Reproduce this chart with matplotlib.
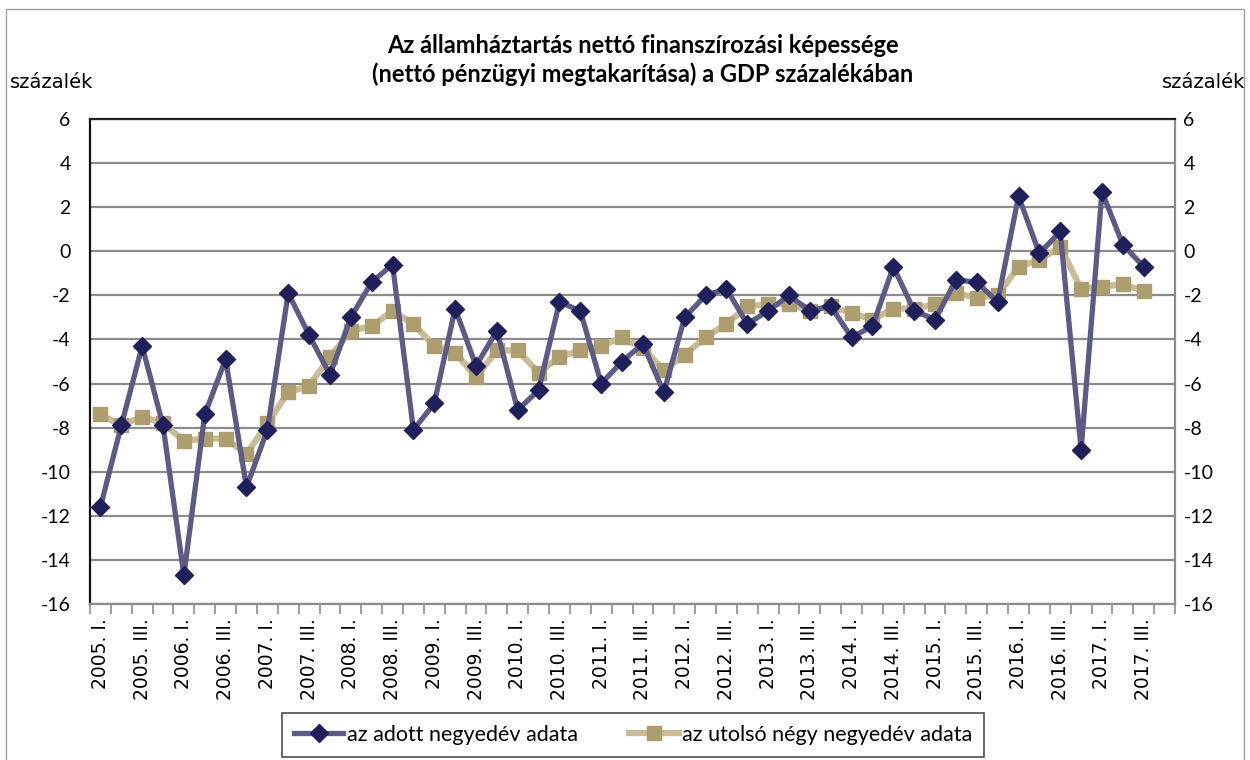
import matplotlib
matplotlib.use("Agg")
import matplotlib.pyplot as plt
from matplotlib.lines import Line2D
from matplotlib.patches import Rectangle

# ── data (2005 Q1 .. 2017 Q3; 2017 Q4 slot left empty on the axis) ─────────
years = list(range(2005, 2018))
quarters = ["I.", "II.", "III.", "IV."]
categories = [f"{y}. {q}" for y in years for q in quarters]   # 52 slots

quarterly = [-11.6, -7.9, -4.3, -7.9, -14.7, -7.4, -4.9, -10.7,
             -8.1, -1.9, -3.8, -5.6, -3.0, -1.4, -0.6, -8.1,
             -6.9, -2.6, -5.2, -3.6, -7.2, -6.3, -2.3, -2.7,
             -6.0, -5.0, -4.2, -6.4, -3.0, -2.0, -1.7, -3.3,
             -2.7, -2.0, -2.7, -2.5, -3.9, -3.4, -0.7, -2.7,
             -3.1, -1.3, -1.4, -2.3, 2.5, -0.1, 0.9, -9.0,
             2.7, 0.3, -0.7]
rolling4 = [-7.4, -7.9, -7.5, -7.8, -8.6, -8.5, -8.5, -9.2,
            -7.8, -6.4, -6.1, -4.8, -3.6, -3.4, -2.7, -3.3,
            -4.3, -4.6, -5.7, -4.5, -4.5, -5.5, -4.8, -4.5,
            -4.3, -3.9, -4.4, -5.4, -4.7, -3.9, -3.3, -2.5,
            -2.4, -2.4, -2.7, -2.5, -2.8, -3.1, -2.6, -2.6,
            -2.4, -1.9, -2.1, -2.0, -0.7, -0.4, 0.2, -1.7,
            -1.6, -1.5, -1.8]

yticks = list(range(-16, 7, 2))

TITLE = ("Az államháztartás nettó finanszírozási képessége\n"
         "(nettó pénzügyi megtakarítása) a GDP százalékában")
UNIT = "százalék"
LABELS = ["az adott negyedév adata", "az utolsó négy negyedév adata"]

# ── style ────────────────────────────────────────────────────────────────────
NAVY_LINE = "#5b5b86"
NAVY_MARK = "#1f1f5c"
TAN_LINE = "#c9bc97"
TAN_MARK = "#ad9e6f"
GRID = "#8c8c8c"
FONT = ["Lato", "DejaVu Sans"]

plt.rcParams["font.family"] = FONT
plt.rcParams["axes.unicode_minus"] = False

fig = plt.figure(figsize=(12.5, 7.6), dpi=100)
ax = fig.add_axes([90 / 1250, 1 - 604 / 760, 1085 / 1250, 485 / 760])

# outer chart frame
fig.patches.append(Rectangle((6 / 1250, -0.01), 1238 / 1250, 1 - 9 / 760 + 0.01,
                             transform=fig.transFigure, fill=False,
                             edgecolor="#a0a0a0", lw=1.0))

xs = list(range(len(quarterly)))
ax.plot(xs, rolling4, color=TAN_LINE, lw=4.5, marker="s", ms=10,
        mfc=TAN_MARK, mec=TAN_MARK, zorder=3)
ax.plot(xs, quarterly, color=NAVY_LINE, lw=3.8, marker="D", ms=9.5,
        mfc=NAVY_MARK, mec=NAVY_MARK, zorder=4)

ax.set_xlim(-0.5, len(categories) - 0.5)
ax.set_ylim(-16, 6)
ax.set_yticks(yticks)
ax.yaxis.grid(True, color=GRID, lw=1.6)
ax.set_axisbelow(True)
ax.tick_params(axis="y", length=0, labelsize=14, pad=14)

# category boundary ticks, labels on every second category centre
ax.set_xticks([i - 0.5 for i in range(len(categories) + 1)])
ax.set_xticklabels([])
ax.tick_params(axis="x", which="major", length=7, color=GRID, width=1.2)
ax.set_xticks(list(range(0, len(categories), 2)), minor=True)
ax.set_xticklabels(categories[::2], minor=True, rotation=90,
                   fontsize=13.5, family="DejaVu Sans")
ax.tick_params(axis="x", which="minor", length=0, pad=10)

for side, col, w in (("left", "#111111", 1.6), ("top", "#222222", 1.6),
                     ("right", "#8c8c8c", 1.6), ("bottom", "#8c8c8c", 1.6)):
    ax.spines[side].set_color(col)
    ax.spines[side].set_linewidth(w)

ax2 = ax.twinx()
ax2.set_ylim(-16, 6)
ax2.set_yticks(yticks)
ax2.tick_params(axis="y", length=0, labelsize=14, pad=6)
for sp in ax2.spines.values():
    sp.set_visible(False)

fig.text(0.514, 1 - 60 / 760, TITLE, ha="center", va="center", fontsize=17,
         fontweight="bold", linespacing=1.3)
fig.text(10 / 1250, 1 - 82 / 760, UNIT, ha="left", va="center", fontsize=14,
         family="DejaVu Sans")
fig.text(1245 / 1250, 1 - 82 / 760, UNIT, ha="right", va="center", fontsize=14,
         family="DejaVu Sans")

handles = [Line2D([], [], color=NAVY_LINE, lw=3.8, marker="D", ms=9.5,
                  mfc=NAVY_MARK, mec=NAVY_MARK),
           Line2D([], [], color=TAN_LINE, lw=4.5, marker="s", ms=10,
                  mfc=TAN_MARK, mec=TAN_MARK)]
leg = fig.legend(handles, LABELS, loc="center", ncol=2,
                 bbox_to_anchor=(633 / 1250, 1 - 735 / 760), frameon=True,
                 fancybox=False, edgecolor="#222222", fontsize=15.5,
                 handlelength=2.3, handletextpad=0.15, columnspacing=2.4,
                 borderpad=0.55, borderaxespad=0)
leg.get_frame().set_linewidth(1.2)

fig.savefig("out.png", dpi=100)
